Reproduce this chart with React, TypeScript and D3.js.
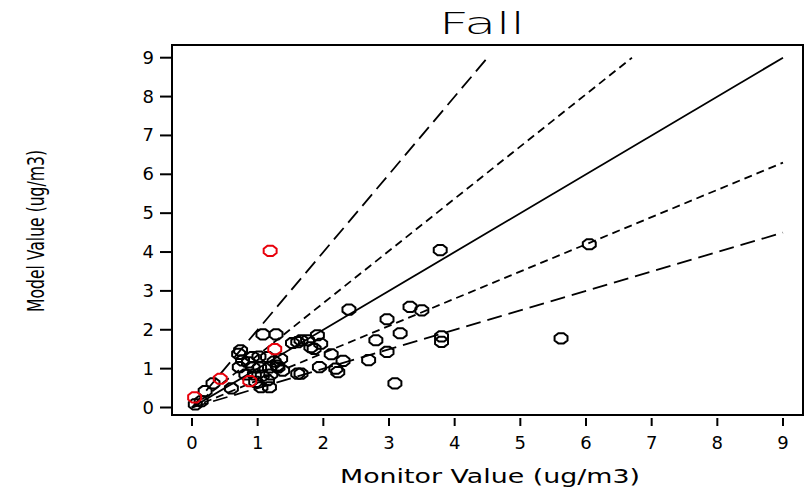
import React, { useRef, useEffect } from "react";
import * as d3 from "d3";

// monitor vs model values, ug/m3
const blackPoints: [number, number][] = [
  [3.78, 4.05], [6.05, 4.2], [2.39, 2.52], [3.32, 2.59], [3.5, 2.5],
  [2.97, 2.27], [3.17, 1.91], [3.8, 1.83], [3.8, 1.69], [5.62, 1.78],
  [2.8, 1.73], [2.97, 1.43], [2.69, 1.22], [3.09, 0.62], [2.22, 0.91],
  [2.19, 1.0], [2.12, 1.37], [2.3, 1.2], [1.94, 1.04], [1.66, 0.87],
  [1.91, 1.86], [1.96, 1.64], [1.81, 1.55], [1.66, 1.73], [1.53, 1.66],
  [1.61, 1.68], [1.76, 1.73], [1.86, 1.51], [1.08, 1.88], [1.28, 1.88],
  [0.74, 1.47], [0.77, 1.21], [0.92, 1.3], [1.02, 1.31], [1.15, 1.3],
  [1.35, 1.25], [1.3, 1.08], [0.72, 1.04], [0.93, 1.03], [1.03, 1.03],
  [1.18, 1.03], [1.31, 1.03], [0.82, 0.85], [0.95, 0.85], [1.07, 0.82],
  [1.2, 0.85], [0.97, 0.66], [1.15, 0.7], [1.05, 0.52], [1.18, 0.52],
  [0.6, 0.49], [0.32, 0.62], [0.2, 0.42], [0.05, 0.08], [0.14, 0.16],
  [1.61, 0.87], [0.71, 1.38], [0.86, 1.16], [1.25, 1.18], [1.38, 0.95],
];
const redPoints: [number, number][] = [
  [1.19, 4.03], [1.26, 1.5], [0.88, 0.68], [0.43, 0.74], [0.04, 0.26],
];

// reference lines (ratio lines through origin)
const refLines = [
  { pts: [[0, 0], [9, 9]], dash: null },
  { pts: [[0, 0], [4.5, 9]], dash: "15,7" },
  { pts: [[0, 0], [9, 4.5]], dash: "15,7" },
  { pts: [[0, 0], [6.7, 9]], dash: "8,5" },
  { pts: [[0, 0], [9, 6.3]], dash: "8,5" },
];

const xTicks = [0, 1, 2, 3, 4, 5, 6, 7, 8, 9];
const yTicks = [0, 1, 2, 3, 4, 5, 6, 7, 8, 9];

const App = () => {
  const svgRef = useRef<SVGSVGElement>(null);

  useEffect(() => {
    const width = 806;
    const height = 489;
    const svg = d3.select(svgRef.current);
    svg.selectAll("*").remove();

    const frame = { left: 172, top: 45, right: 803, bottom: 415 };
    const x = d3.scaleLinear().domain([0, 9]).range([192, 783]);
    const y = d3.scaleLinear().domain([0, 9]).range([407.5, 57.7]);

    svg.append("rect")
      .attr("width", width)
      .attr("height", height)
      .attr("fill", "white");

    // title
    svg.append("text")
      .attr("x", 482)
      .attr("y", 34)
      .attr("text-anchor", "middle")
      .attr("font-family", "DejaVu Sans")
      .attr("font-size", 30)
      .attr("font-weight", 200)
      .attr("textLength", 86)
      .attr("lengthAdjust", "spacingAndGlyphs")
      .text("Fall");

    // plot frame
    svg.append("rect")
      .attr("x", frame.left)
      .attr("y", frame.top)
      .attr("width", frame.right - frame.left)
      .attr("height", frame.bottom - frame.top)
      .attr("fill", "none")
      .attr("stroke", "black")
      .attr("stroke-width", 2);

    // x ticks
    const xt = svg.append("g");
    xt.selectAll("line")
      .data(xTicks)
      .enter()
      .append("line")
      .attr("x1", d => x(d))
      .attr("x2", d => x(d))
      .attr("y1", frame.bottom + 3)
      .attr("y2", frame.bottom + 11)
      .attr("stroke", "black")
      .attr("stroke-width", 2);
    xt.selectAll("text")
      .data(xTicks)
      .enter()
      .append("text")
      .attr("x", d => x(d))
      .attr("y", 449)
      .attr("text-anchor", "middle")
      .attr("font-family", "DejaVu Sans")
      .attr("font-size", 18)
      .text(d => d);

    // y ticks
    const yt = svg.append("g");
    yt.selectAll("line")
      .data(yTicks)
      .enter()
      .append("line")
      .attr("x1", frame.left - 12)
      .attr("x2", frame.left)
      .attr("y1", d => y(d))
      .attr("y2", d => y(d))
      .attr("stroke", "black")
      .attr("stroke-width", 2);
    yt.selectAll("text")
      .data(yTicks)
      .enter()
      .append("text")
      .attr("x", 154)
      .attr("y", d => y(d) + 6)
      .attr("text-anchor", "end")
      .attr("font-family", "DejaVu Sans")
      .attr("font-size", 18)
      .text(d => d);

    // axis titles
    svg.append("text")
      .attr("x", 490)
      .attr("y", 483)
      .attr("text-anchor", "middle")
      .attr("font-family", "DejaVu Sans")
      .attr("font-size", 20)
      .attr("textLength", 300)
      .attr("lengthAdjust", "spacingAndGlyphs")
      .text("Monitor Value (ug/m3)");

    svg.append("text")
      .attr("transform", "translate(44,231) rotate(-90)")
      .attr("text-anchor", "middle")
      .attr("font-family", "DejaVu Sans")
      .attr("font-size", 23)
      .attr("textLength", 162)
      .attr("lengthAdjust", "spacingAndGlyphs")
      .text("Model Value (ug/m3)");

    // ratio lines
    const line = d3.line<number[]>()
      .x(d => x(d[0]))
      .y(d => y(d[1]));
    svg.append("g")
      .selectAll("path")
      .data(refLines)
      .enter()
      .append("path")
      .attr("d", d => line(d.pts))
      .attr("fill", "none")
      .attr("stroke", "black")
      .attr("stroke-width", 1.8)
      .attr("stroke-dasharray", d => d.dash);

    // octagon marker
    const rx = 7;
    const ry = 5.5;
    const octo = d3.range(8).map(i => {
      const a = (Math.PI / 8) + (i * Math.PI) / 4;
      return [Math.cos(a) * rx, Math.sin(a) * ry];
    });
    const octoPath = "M" + octo.map(p => p.join(",")).join("L") + "Z";

    const drawPoints = (pts: [number, number][], color: string) => {
      svg.append("g")
        .selectAll("path")
        .data(pts)
        .enter()
        .append("path")
        .attr("transform", d => `translate(${x(d[0])},${y(d[1])})`)
        .attr("d", octoPath)
        .attr("fill", "none")
        .attr("stroke", color)
        .attr("stroke-width", 2);
    };
    drawPoints(blackPoints, "black");
    drawPoints(redPoints, "#e8000b");
  }, []);

  return (
    <svg
      ref={svgRef}
      width={806}
      height={489}
      style={{ position: "absolute", left: 0, top: 0, display: "block" }}
    />
  );
};

export default App;
